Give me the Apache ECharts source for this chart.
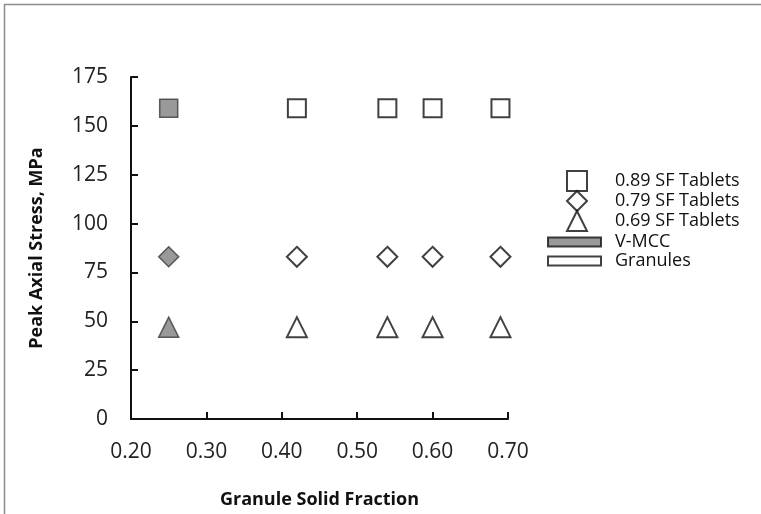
<!DOCTYPE html>
<html>
<head>
<meta charset="utf-8">
<script src="https://cdn.jsdelivr.net/npm/echarts@6/dist/echarts.min.js"></script>
<style>html,body{margin:0;padding:0;background:#fff;}#c{width:761px;height:514px;}</style>
</head>
<body>
<div id="c"></div>
<script>
const granuleSF = [0.42, 0.54, 0.60, 0.69];
const granuleStress89 = [159, 159, 159, 159];
const granuleStress79 = [83, 83, 83, 83];
const granuleStress69 = [47, 47, 47, 47];
const vmccSF = [0.25, 0.25, 0.25];
const vmccStress = [159, 83, 47];
const vmccSymbols = ['rect', 'diamond', 'triangle'];
const seriesNames = ['0.89 SF Tablets', '0.79 SF Tablets', '0.69 SF Tablets', 'V-MCC', 'Granules'];
const xTicks = [0.2, 0.7, 0.1];
const yTicks = [0, 175, 25];

const font = 'Open Sans';
const pair = (xs, ys) => xs.map((x, i) => [x, ys[i]]);
const whiteStyle = { color: '#ffffff', borderColor: '#111111', borderWidth: 2 };
const sizes = { rect: 18, diamond: 20, triangle: 20 };

const chart = echarts.init(document.getElementById('c'));
chart.setOption({
  animation: false,
  backgroundColor: '#ffffff',
  graphic: [{
    type: 'rect', silent: true, z: -10,
    shape: { x: 4.5, y: 4.5, width: 900, height: 700 },
    style: { fill: 'none', stroke: '#8c8c8c', lineWidth: 1.5 }
  }],
  grid: { left: 131, right: 253, top: 77, bottom: 95 },
  legend: [{
    orient: 'vertical', left: 561, top: 165,
    itemWidth: 20, itemHeight: 20, itemGap: -2,
    symbolKeepAspect: true,
    data: seriesNames.slice(0, 3),
    textStyle: { fontFamily: font, fontSize: 18, color: '#111', lineHeight: 20, padding: [0, 0, 0, 23] }
  }, {
    orient: 'vertical', left: 542, top: 228,
    itemWidth: 53, itemHeight: 9, itemGap: 1,
    symbolKeepAspect: false,
    data: [
      { name: seriesNames[3], icon: 'rect', itemStyle: { borderColor: '#111', borderWidth: 2 } },
      { name: seriesNames[4], icon: 'rect', itemStyle: { borderColor: '#111', borderWidth: 2 } }
    ],
    textStyle: { fontFamily: font, fontSize: 18, color: '#111', lineHeight: 18, padding: [0, 0, 0, 9] }
  }],
  xAxis: {
    type: 'value', min: xTicks[0], max: xTicks[1], interval: xTicks[2],
    name: 'Granule Solid Fraction', nameLocation: 'middle', nameGap: 72,
    nameTextStyle: { fontFamily: font, fontSize: 18, fontWeight: 'bold', color: '#111' },
    axisLine: { show: true, lineStyle: { color: '#111', width: 2 } },
    axisTick: { show: true, inside: true, length: 7, lineStyle: { color: '#111', width: 2 } },
    axisLabel: { fontFamily: font, fontSize: 21, color: '#222', margin: 23,
      formatter: v => v.toFixed(2) },
    splitLine: { show: false }
  },
  yAxis: {
    type: 'value', min: yTicks[0], max: yTicks[1], interval: yTicks[2],
    name: 'Peak Axial Stress, MPa', nameLocation: 'middle', nameGap: 85, nameRotate: 90,
    nameTextStyle: { fontFamily: font, fontSize: 18, fontWeight: 'bold', color: '#111' },
    axisLine: { show: true, lineStyle: { color: '#111', width: 2 } },
    axisTick: { show: true, inside: true, length: 7, lineStyle: { color: '#111', width: 2 } },
    axisLabel: { fontFamily: font, fontSize: 21, color: '#222', margin: 23 },
    splitLine: { show: false }
  },
  series: [
    { name: seriesNames[0], type: 'scatter', symbol: 'rect', symbolSize: sizes.rect,
      itemStyle: whiteStyle, data: pair(granuleSF, granuleStress89) },
    { name: seriesNames[1], type: 'scatter', symbol: 'diamond', symbolSize: sizes.diamond,
      itemStyle: whiteStyle, data: pair(granuleSF, granuleStress79) },
    { name: seriesNames[2], type: 'scatter', symbol: 'triangle', symbolSize: sizes.triangle,
      itemStyle: whiteStyle, data: pair(granuleSF, granuleStress69) },
    { name: seriesNames[3], type: 'scatter',
      itemStyle: { color: '#808080', borderColor: '#3a3a3a', borderWidth: 1.5 },
      data: vmccSF.map((x, i) => ({ value: [x, vmccStress[i]], symbol: vmccSymbols[i], symbolSize: sizes[vmccSymbols[i]] })) },
    { name: seriesNames[4], type: 'scatter', itemStyle: whiteStyle, data: [] }
  ]
});
</script>
</body>
</html>
